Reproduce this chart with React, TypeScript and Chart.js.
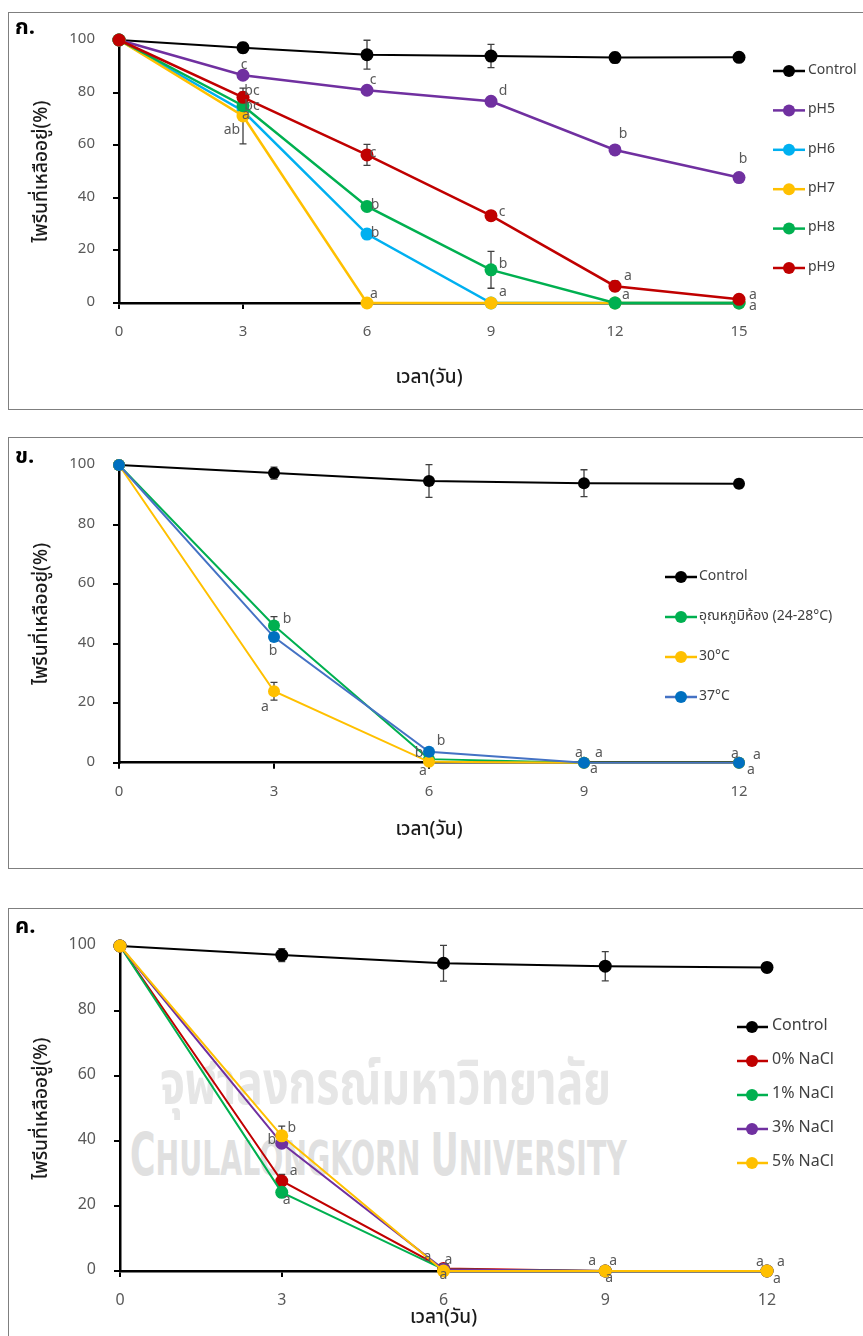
import React, { useEffect, useRef } from "react";
import { Chart, registerables } from "chart.js";

Chart.register(...registerables);

const FONT = "'Noto Sans Thai', 'Noto Sans', 'DejaVu Sans', sans-serif";
const X_TITLE = "เวลา(วัน)";
const Y_TITLE = "ไพรีนที่เหลืออยู่(%)";

// ---------- Panel ก. : pH ----------
const phDays = [0, 3, 6, 9, 12, 15];
const phNames = ["Control", "pH5", "pH6", "pH7", "pH8", "pH9"];
const phControl = [100, 97.1, 94.4, 93.9, 93.3, 93.4];
const phControlErr = [0, 2, 5.5, 4.4, 2, 0];
const ph5 = [100, 86.6, 80.9, 76.7, 58.2, 47.7];
const ph5Err = [0, 0.8, 0.8, 1.5, 0.8, 0.5];
const ph5Letters = ["", "c", "c", "d", "b", "b"];
const ph6 = [100, 73.0, 26.2, 0, 0, 0];
const ph6Err = [0, 0, 1.5, 0, 0, 0];
const ph6Letters = ["", "ab", "b", "", "", ""];
const ph7 = [100, 71.1, 0, 0, 0, 0];
const ph7Err = [0, 10.6, 0, 0, 0, 0];
const ph7Letters = ["", "a", "a", "a", "", ""];
const ph8 = [100, 75.0, 36.7, 12.6, 0, 0];
const ph8Err = [0, 1.5, 1.5, 7, 0, 0];
const ph8Letters = ["", "bc", "b", "b", "a", "a"];
const ph9 = [100, 78.2, 56.3, 33.2, 6.4, 1.4];
const ph9Err = [0, 2, 4, 1, 2, 0];
const ph9Letters = ["", "bc", "c", "c", "a", "a"];

// ---------- Panel ข. : temperature ----------
const tempDays = [0, 3, 6, 9, 12];
const tempNames = ["Control", "อุณหภูมิห้อง (24-28°C)", "30°C", "37°C"];
const tempControl = [100, 97.3, 94.6, 93.9, 93.7];
const tempControlErr = [0, 2, 5.5, 4.5, 1.5];
const tempRoom = [100, 46.1, 1.2, 0, 0];
const tempRoomErr = [0, 3, 0, 0, 0];
const tempRoomLetters = ["", "b", "b", "a", "a"];
const temp30 = [100, 24.0, 0.3, 0, 0];
const temp30Err = [0, 3, 0, 0, 0];
const temp30Letters = ["", "a", "a", "a", "a"];
const temp37 = [100, 42.2, 3.7, 0, 0];
const temp37Err = [0, 0, 0, 0, 0];
const temp37Letters = ["", "b", "b", "a", "a"];

// ---------- Panel ค. : NaCl ----------
const saltDays = [0, 3, 6, 9, 12];
const saltNames = ["Control", "0% NaCl", "1% NaCl", "3% NaCl", "5% NaCl"];
const saltControl = [100, 97.2, 94.7, 93.8, 93.4];
const saltControlErr = [0, 2, 5.5, 4.5, 1.5];
const nacl0 = [100, 27.7, 0.8, 0, 0];
const nacl0Err = [0, 2, 0, 0, 0];
const nacl0Letters = ["", "a", "a", "a", "a"];
const nacl1 = [100, 24.2, 0.5, 0, 0];
const nacl1Err = [0, 1.5, 0, 0, 0];
const nacl1Letters = ["", "a", "a", "a", "a"];
const nacl3 = [100, 39.3, 0.5, 0, 0];
const nacl3Err = [0, 1, 0, 0, 0];
const nacl3Letters = ["", "b", "", "", ""];
const nacl5 = [100, 41.6, 0, 0, 0];
const nacl5Err = [0, 3, 0, 0, 0];
const nacl5Letters = ["", "b", "a", "a", "a"];

// ---------- letter placement (pixel offsets from the point) ----------
type Off = [number, number];
const Z: Off = [0, 0];
const ph5Off: Off[] = [Z, [1, -9], [6, -9], [12, -9], [8, -15], [4, -17]];
const ph6Off: Off[] = [Z, [-11, 20], [8, 0], Z, Z, Z];
const ph7Off: Off[] = [Z, [3, 0], [7, -8], [12, -10], Z, Z];
const ph8Off: Off[] = [Z, [9, 1], [8, 0], [12, -5], [11, -7], [14, 4]];
const ph9Off: Off[] = [Z, [9, -5], [6, -1], [11, -3], [13, -9], [14, -3]];
const roomOff: Off[] = [Z, [13, -5], [-10, -5], [-5, -9], [-4, -8]];
const t30Off: Off[] = [Z, [-9, 17], [-6, 10], [10, 7], [12, 8]];
const t37Off: Off[] = [Z, [-1, 15], [12, -10], [15, -9], [18, -7]];
const n0Off: Off[] = [Z, [12, -9], [-16, -10], [-13, -9], [-7, -8]];
const n1Off: Off[] = [Z, [5, 9], [0, 7], [4, 8], [10, 9]];
const n3Off: Off[] = [Z, [-10, -2], Z, Z, Z];
const n5Off: Off[] = [Z, [10, -7], [5, -10], [8, -9], [14, -8]];

type Series = {
  label: string;
  values: number[];
  errors: number[];
  letters?: string[];
  offsets?: Off[];
  line: string;
  point: string;
};

type Spec = {
  tag: string;
  tagY: number;
  left: number;
  top: number;
  width: number;
  height: number;
  days: number[];
  xMax: number;
  series: Series[];
  padTop: number;
  padRight: number;
  yWidth: number;
  xHeight: number;
  xTitlePad: number;
  yTitlePad: number;
  tickSize: number;
  xTickPad: number;
  lineWidth: number;
  radius: number;
  legend: { lineStart: number; lineEnd: number; marker: number; text: number; y0: number; step: number; size: number };
};

const errorBarsPlugin = {
  id: "errorBars",
  beforeDatasetsDraw(chart: any) {
    const ctx = chart.ctx;
    const ys = chart.scales.y;
    chart.data.datasets.forEach((ds: any, di: number) => {
      const meta = chart.getDatasetMeta(di);
      if (!ds.errors) return;
      ctx.save();
      ctx.strokeStyle = "#404040";
      ctx.lineWidth = 1.3;
      ds.data.forEach((p: any, i: number) => {
        const e = ds.errors[i];
        if (!e) return;
        const x = meta.data[i].x;
        const t = ys.getPixelForValue(p.y + e);
        const b = ys.getPixelForValue(p.y - e);
        ctx.beginPath();
        ctx.moveTo(x, t);
        ctx.lineTo(x, b);
        ctx.moveTo(x - 3.5, t);
        ctx.lineTo(x + 3.5, t);
        ctx.moveTo(x - 3.5, b);
        ctx.lineTo(x + 3.5, b);
        ctx.stroke();
      });
      ctx.restore();
    });
  },
};

const lettersPlugin = {
  id: "letters",
  afterDatasetsDraw(chart: any) {
    const ctx = chart.ctx;
    ctx.save();
    ctx.fillStyle = "#595959";
    ctx.font = `14px ${FONT}`;
    ctx.textAlign = "center";
    ctx.textBaseline = "middle";
    chart.data.datasets.forEach((ds: any, di: number) => {
      if (!ds.letters) return;
      const meta = chart.getDatasetMeta(di);
      ds.letters.forEach((t: string, i: number) => {
        if (!t) return;
        const o = (ds.offsets && ds.offsets[i]) || [0, 0];
        ctx.fillText(t, meta.data[i].x + o[0], meta.data[i].y + o[1]);
      });
    });
    ctx.restore();
  },
};

const legendPlugin = {
  id: "sideLegend",
  afterDraw(chart: any, _args: any, opts: any) {
    const ctx = chart.ctx;
    const L = opts.legend;
    if (!L) return;
    ctx.save();
    chart.data.datasets.forEach((ds: any, i: number) => {
      const y = L.y0 + i * L.step;
      ctx.strokeStyle = ds.borderColor;
      ctx.lineWidth = 2.5;
      ctx.beginPath();
      ctx.moveTo(L.lineStart, y);
      ctx.lineTo(L.lineEnd, y);
      ctx.stroke();
      ctx.fillStyle = ds.pointBackgroundColor;
      ctx.beginPath();
      ctx.arc(L.marker, y, 6, 0, Math.PI * 2);
      ctx.fill();
      ctx.fillStyle = "#404040";
      ctx.font = `${L.size}px ${FONT}`;
      ctx.textAlign = "left";
      ctx.textBaseline = "middle";
      ctx.fillText(ds.label, L.text, y);
    });
    ctx.fillStyle = "#000";
    ctx.font = `bold 22px ${FONT}`;
    ctx.textAlign = "left";
    ctx.textBaseline = "middle";
    ctx.fillText(opts.tag, 5, opts.tagY);
    ctx.restore();
  },
};

function buildConfig(s: Spec): any {
  const n = s.series.length;
  return {
    type: "line",
    data: {
      datasets: s.series.map((se, i) => ({
        label: se.label,
        data: s.days.map((d, k) => ({ x: d, y: se.values[k] })),
        errors: se.errors,
        letters: se.letters,
        offsets: se.offsets,
        borderColor: se.line,
        backgroundColor: se.point,
        pointBackgroundColor: se.point,
        pointBorderColor: se.point,
        pointBorderWidth: 0,
        pointRadius: s.radius,
        pointHoverRadius: s.radius,
        borderWidth: i === 0 ? 2 : s.lineWidth,
        tension: 0,
        clip: false,
        order: n - i,
      })),
    },
    options: {
      responsive: false,
      animation: false,
      devicePixelRatio: 1,
      events: [],
      layout: { padding: { left: 0, top: s.padTop, right: s.padRight, bottom: 0 } },
      plugins: {
        legend: { display: false },
        tooltip: { enabled: false },
        sideLegend: { legend: s.legend, tag: s.tag, tagY: s.tagY },
      },
      scales: {
        x: {
          type: "linear",
          min: 0,
          max: s.xMax,
          ticks: { stepSize: 3, color: "#595959", font: { family: FONT, size: s.tickSize }, padding: s.xTickPad },
          grid: { display: true, drawOnChartArea: false, drawTicks: true, tickLength: 6, color: "#000", lineWidth: 2 },
          border: { display: true, color: "#000", width: 2.5 },
          title: {
            display: true,
            text: X_TITLE,
            color: "#1a1a1a",
            font: { family: FONT, size: 19, weight: "500" },
            padding: { top: 0, bottom: s.xTitlePad },
          },
          afterFit: (sc: any) => {
            sc.height = s.xHeight;
          },
        },
        y: {
          min: 0,
          max: 100,
          ticks: { stepSize: 20, color: "#595959", font: { family: FONT, size: s.tickSize }, padding: 18 },
          grid: { display: true, drawOnChartArea: false, drawTicks: true, tickLength: 6, color: "#000", lineWidth: 2 },
          border: { display: true, color: "#000", width: 2.5 },
          title: {
            display: true,
            text: Y_TITLE,
            color: "#1a1a1a",
            font: { family: FONT, size: 19, weight: "500" },
            padding: { top: s.yTitlePad, bottom: 0 },
          },
          afterFit: (sc: any) => {
            sc.width = s.yWidth;
          },
        },
      },
    },
    plugins: [errorBarsPlugin, lettersPlugin, legendPlugin],
  };
}

const phSpec: Spec = {
  tag: "ก.",
  tagY: 17,
  left: 10,
  top: 13,
  width: 853,
  height: 395,
  days: phDays,
  xMax: 15,
  series: [
    { label: phNames[0], values: phControl, errors: phControlErr, line: "#000000", point: "#000000" },
    { label: phNames[1], values: ph5, errors: ph5Err, letters: ph5Letters, offsets: ph5Off, line: "#7030A0", point: "#7030A0" },
    { label: phNames[2], values: ph6, errors: ph6Err, letters: ph6Letters, offsets: ph6Off, line: "#00B0F0", point: "#00B0F0" },
    { label: phNames[3], values: ph7, errors: ph7Err, letters: ph7Letters, offsets: ph7Off, line: "#FFC000", point: "#FFC000" },
    { label: phNames[4], values: ph8, errors: ph8Err, letters: ph8Letters, offsets: ph8Off, line: "#00B050", point: "#00B050" },
    { label: phNames[5], values: ph9, errors: ph9Err, letters: ph9Letters, offsets: ph9Off, line: "#C00000", point: "#C00000" },
  ],
  padTop: 23.5,
  padRight: 124,
  yWidth: 109,
  xHeight: 105,
  xTitlePad: 17,
  yTitlePad: 22,
  tickSize: 15,
  xTickPad: 15,
  lineWidth: 2.5,
  radius: 6.5,
  legend: { lineStart: 763, lineEnd: 795, marker: 779, text: 798, y0: 58, step: 39.4, size: 14 },
};

const tempSpec: Spec = {
  tag: "ข.",
  tagY: 21,
  left: 10,
  top: 438,
  width: 853,
  height: 430,
  days: tempDays,
  xMax: 12,
  series: [
    { label: tempNames[0], values: tempControl, errors: tempControlErr, line: "#000000", point: "#000000" },
    { label: tempNames[1], values: tempRoom, errors: tempRoomErr, letters: tempRoomLetters, offsets: roomOff, line: "#00B050", point: "#00B050" },
    { label: tempNames[2], values: temp30, errors: temp30Err, letters: temp30Letters, offsets: t30Off, line: "#FFC000", point: "#FFC000" },
    { label: tempNames[3], values: temp37, errors: temp37Err, letters: temp37Letters, offsets: t37Off, line: "#4472C4", point: "#0070C0" },
  ],
  padTop: 25,
  padRight: 124,
  yWidth: 109,
  xHeight: 105.3,
  xTitlePad: 25,
  yTitlePad: 22,
  tickSize: 15,
  xTickPad: 15,
  lineWidth: 2,
  radius: 6,
  legend: { lineStart: 655, lineEnd: 687, marker: 671, text: 689, y0: 139, step: 40, size: 14 },
};

const saltSpec: Spec = {
  tag: "ค.",
  tagY: 20,
  left: 10,
  top: 909,
  width: 853,
  height: 427,
  days: saltDays,
  xMax: 12,
  series: [
    { label: saltNames[0], values: saltControl, errors: saltControlErr, line: "#000000", point: "#000000" },
    { label: saltNames[1], values: nacl0, errors: nacl0Err, letters: nacl0Letters, offsets: n0Off, line: "#C00000", point: "#C00000" },
    { label: saltNames[2], values: nacl1, errors: nacl1Err, letters: nacl1Letters, offsets: n1Off, line: "#00B050", point: "#00B050" },
    { label: saltNames[3], values: nacl3, errors: nacl3Err, letters: nacl3Letters, offsets: n3Off, line: "#7030A0", point: "#7030A0" },
    { label: saltNames[4], values: nacl5, errors: nacl5Err, letters: nacl5Letters, offsets: n5Off, line: "#FFC000", point: "#FFC000" },
  ],
  padTop: 37,
  padRight: 96,
  yWidth: 110,
  xHeight: 65,
  xTitlePad: 5,
  yTitlePad: 22,
  tickSize: 16,
  xTickPad: 15.4,
  lineWidth: 2,
  radius: 6.5,
  legend: { lineStart: 727, lineEnd: 758, marker: 742, text: 762, y0: 118, step: 34, size: 16 },
};

function PanelChart({ spec }: { spec: Spec }) {
  const ref = useRef<HTMLCanvasElement>(null);
  useEffect(() => {
    const chart = new Chart(ref.current as HTMLCanvasElement, buildConfig(spec));
    return () => chart.destroy();
  }, [spec]);
  return (
    <canvas
      ref={ref}
      width={spec.width}
      height={spec.height}
      style={{ position: "absolute", left: spec.left, top: spec.top, width: spec.width, height: spec.height }}
    />
  );
}

const boxStyle = (top: number, height: number): React.CSSProperties => ({
  position: "absolute",
  left: 8,
  top,
  width: 900,
  height,
  border: "1px solid #7f7f7f",
  boxSizing: "border-box",
});

export default function App() {
  return (
    <div
      style={{
        position: "absolute",
        left: 0,
        top: 0,
        width: 863,
        height: 1336,
        overflow: "hidden",
        background: "#fff",
      }}
    >
      <div style={boxStyle(12, 398)} />
      <div style={boxStyle(437, 432)} />
      <div style={boxStyle(908, 600)} />
      <div
        style={{
          position: "absolute",
          left: 160,
          top: 1046,
          fontFamily: FONT,
          fontWeight: "bold",
          fontSize: 60,
          lineHeight: "80px",
          color: "#e6e6e6",
          whiteSpace: "nowrap",
          transform: "scaleX(0.745)",
          transformOrigin: "left top",
        }}
      >
        จุฬาลงกรณ์มหาวิทยาลัย
      </div>
      <div
        style={{
          position: "absolute",
          left: 130,
          top: 1124,
          fontFamily: "'DejaVu Sans', sans-serif",
          fontWeight: "bold",
          fontSize: 48,
          lineHeight: "62px",
          color: "#e0e0e0",
          whiteSpace: "nowrap",
          transform: "scaleX(0.59)",
          transformOrigin: "left top",
        }}
      >
        <span style={{ fontSize: 59 }}>C</span>HULALONGKORN <span style={{ fontSize: 59 }}>U</span>NIVERSITY
      </div>
      <PanelChart spec={phSpec} />
      <PanelChart spec={tempSpec} />
      <PanelChart spec={saltSpec} />
    </div>
  );
}
